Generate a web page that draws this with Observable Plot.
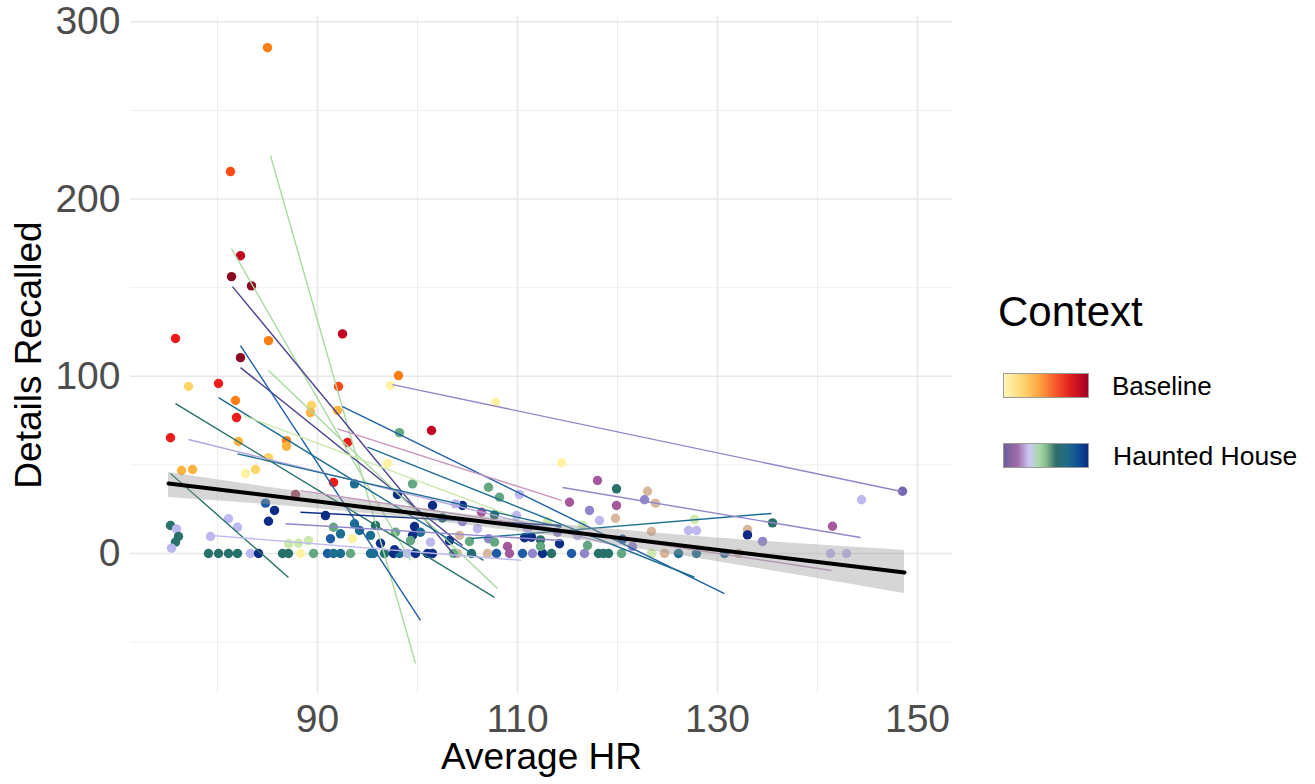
<!DOCTYPE html>
<html>
<head>
<meta charset="utf-8">
<script src="https://cdn.jsdelivr.net/npm/d3@7"></script>
<script src="https://cdn.jsdelivr.net/npm/@observablehq/plot@0.6"></script>
<style>
  html, body { margin: 0; padding: 0; background: #fff; }
  #wrap { position: relative; width: 1315px; height: 784px; overflow: hidden; font-family: "Liberation Sans", Arial, Helvetica, sans-serif; }
  .lg { position: absolute; color: #000; line-height: 1; white-space: nowrap; }
  .bar { position: absolute; width: 84px; height: 23px; border: 1px solid #9a9a9a; }
</style>
</head>
<body>
<div id="wrap"></div>
<script>
// ---------- DATA ----------
const xMajor = [90, 110, 130, 150];
const xMinor = [80, 100, 120, 140];
const yMajor = [0, 100, 200, 300];
const yMinor = [-50, 50, 150, 250];

const contexts = ["Baseline", "Haunted House"];

// participant codes (b* = Baseline, h* = Haunted House)
const participantCodes = ["b1","b2","b3","b4","b5","b6","b7","b8","b9",
  "h1","h1d","h2","h2l","h3","h3l","h4","h5","h6","h7","h8","h9","h10","h11","h12"];

// points: average HR, details recalled, participant
const hr = [
  // Baseline
  85.0, 81.3, 82.3, 81.4, 83.4, 92.5, 75.8, 85.1, 82.3, 98.1, 97.3, 77.1, 80.1, 92.1, 101.4,
  81.8, 81.9, 75.3, 82.1, 86.9, 86.9, 89.4, 89.3, 92.0, 107.8, 114.4, 76.4, 77.5, 82.8, 83.8,
  85.1, 91.6, 93.0, 87.8, 97.0, 93.5, 88.3,
  // tan
  123.0, 123.8, 119.8, 123.4, 133.0, 104.2, 104.0, 107.0, 124.7, 132.1,
  // Haunted: zero row
  79.1, 80.1, 81.1, 82.0, 83.3, 84.1, 86.5, 87.1, 89.6, 91.0, 91.6, 92.3, 93.3, 95.3, 95.6,
  96.7, 97.6, 98.2, 99.0, 99.8, 101.0, 101.5, 103.6, 105.4, 107.9, 109.2, 110.5, 111.5, 112.5,
  113.4, 115.4, 116.7, 118.1, 118.6, 119.1, 120.4, 123.4, 126.1, 127.9, 130.7, 141.3, 142.9,
  // Haunted: others
  75.3, 75.9, 76.1, 75.8, 75.4, 81.1, 82.0, 79.3, 84.8, 85.7, 85.1, 87.1, 88.1, 89.1,
  90.8, 91.3, 92.3, 91.6, 93.7, 94.2, 95.3, 96.3, 97.7, 93.7,
  98.2, 99.5, 98.0, 101.5, 104.5, 103.8, 106.4, 107.7, 107.1, 108.2, 109.9, 110.2,
  99.7, 100.3, 99.5, 97.8, 103.2, 105.2, 107.1, 107.7, 110.7, 112.3, 114.2,
  115.2, 117.2, 119.9, 119.9, 118.0, 117.0, 122.7, 118.2, 127.7, 127.1, 127.9, 133.0,
  134.5, 135.5, 141.5, 144.4, 148.5,
  95.8, 101.3, 99.3, 111.4, 112.3, 114.0, 116.0, 120.5, 121.5, 116.5, 113.0, 111.0, 106.0,
  104.5, 102.5, 109.0
];
const recalled = [
  285.4, 215.5, 168.0, 156.2, 151.0, 123.9, 121.3, 120.1, 110.5, 100.4, 94.8, 94.2, 95.9, 94.2, 69.4,
  86.3, 76.7, 65.3, 63.2, 63.7, 60.5, 83.5, 79.5, 80.7, 85.2, 51.2, 46.8, 47.4, 45.1, 47.4,
  54.1, 40.1, 62.6, 33.3, 50.8, 8.3, 0,
  35.1, 28.4, 19.9, 12.4, 13.5, 10.2, 0, 0, 0, 0,
  0, 0, 0, 0, 0, 0, 0, 0, 0, 0, 0, 0, 0, 0, 0,
  0, 0, 0, 0, 0, 0, 0, 0, 0, 0, 0, 0, 0, 0,
  0, 0, 0, 0, 0, 0, 0, 0, 0, 0, 0, 0, 0,
  15.8, 13.9, 9.6, 6.4, 3.0, 19.6, 14.8, 9.6, 28.4, 24.3, 18.2, 5.5, 5.8, 7.3,
  21.4, 8.3, 11.1, 14.8, 16.8, 13.0, 10.2, 5.8, 2.1, 39.3,
  68.2, 39.3, 33.3, 27.1, 27.1, 28.0, 23.3, 21.8, 37.4, 31.8, 21.4, 33.3,
  15.2, 12.0, 10.2, 12.0, 7.3, 6.8, 8.3, 6.4, 8.9, 7.7, 5.5,
  28.9, 24.3, 36.5, 27.1, 41.2, 4.5, 30.3, 18.6, 19.2, 13.0, 13.0, 10.5,
  6.8, 17.3, 15.4, 30.3, 35.1,
  15.8, 6.4, 7.3, 9.2, 4.0, 12.0, 10.0, 8.0, 4.0, 16.0, 18.0, 14.0, 14.0,
  18.0, 20.0, 4.0
];
const participant = [
  "b4","b5","b7","b8","b8","b7","b6","b4","b8","b4","b1","b2","b6","b5","b7",
  "b4","b6","b6","b3","b4","b3","b2","b3","b3","b1","b1","b3","b3","b1","b2",
  "b2","b6","b6","h12","b1","b1","b1",
  "b9","b9","b9","b9","b9","b9","b9","b9","b9","b9",
  "h8","h8","h8","h8","h4","h11","h8","h8","h7","h10","h9","h9","h7","h9","h9",
  "h8","h11","h9","h4","h11","h11","h11","h7","h8","h10","h2","h10","h3","h11",
  "h8","h10","h3","h8","h8","h8","h7","h5","h9","h9","h9","h4","h4",
  "h8","h4","h8","h8","h4","h4","h4","h4","h10","h11","h11","h5","h5","h5",
  "h11","h10","h9","h7","h9","h9","h9","h11","h11","h9",
  "h7","h7","h11","h11","h11","h4","h2","h8","h7","h7","h4","h4",
  "h11","h9","h11","h7","h11","h7","h3","h7","h11","h8","h11",
  "h2","h3","h8","h2","h2","h7","h3","h4","h5","h4","h4","h11",
  "h3","h8","h2","h4","h1",
  "h8","h4","h7","h11","h7","h3","h4","h10","h3","h5","h5","h4","h4",
  "h3","h8","h2"
];

// per-participant fitted lines (start/end)
const lineX1 = [85.3, 81.4, 81.5, 82.3, 82.3, 85.1, 75.8, 75.3, 80.1, 92.5, 105.4, 97.5, 114.5, 88.3, 77.1, 82.6, 82.0, 79.3, 86.8, 92.0, 88.3, 95.0];
const lineY1 = [224.5, 172.0, 150.6, 104.9, 117.3, 103.2, 84.6, 45.1, 88.0, 82.9, 8.5, 95.3, 37.2, 35.5, 64.3, 77.8, 56.2, 10.2, 16.8, 70.3, 23.3, 60.0];
const lineX2 = [99.8, 99.3, 103.8, 104.5, 100.3, 108.0, 107.7, 87.1, 106.6, 130.7, 135.4, 148.4, 144.3, 141.4, 119.9, 110.0, 114.4, 110.4, 114.4, 114.4, 114.4, 127.7];
const lineY2 = [-62.0, -3.9, -1.7, 4.5, -37.8, -19.7, -24.8, -13.5, -3.9, -22.6, 22.6, 35.0, 9.0, -9.6, 4.5, 20.0, 14.8, -3.9, 7.3, 30.0, 15.8, -13.4];
const lineParticipant = ["h6","h6","h1d","h1d","h10","h6","h8","h8","h9","h10","h9","h3","h3","h2l","h3l","h5","h9","h4","h3","h2l","h11","h9"];

// overall linear fit and its confidence band
const fitX = [75.1, 148.7];
const fitY = [39.5, -10.7];
const bandX = [75.1, 90, 105, 120, 135, 148.7];
const bandLow = [31.6, 25.3, 16.0, 4.4, -9.3, -22.6];
const bandHigh = [45.7, 33.4, 22.0, 13.4, 6.7, 1.7];

// ---------- BUILD ----------
const pts = hr.map((x, i) => ({x, y: recalled[i], p: participant[i]}));
const segs = lineX1.map((x1, i) => ({x1, y1: lineY1[i], x2: lineX2[i], y2: lineY2[i], p: lineParticipant[i]}));
const fit = fitX.map((x, i) => ({x, y: fitY[i]}));
const band = bandX.map((x, i) => ({x, lo: bandLow[i], hi: bandHigh[i]}));

const palette = ["#FFF3A3","#FED568","#FEB23F","#FD7E14","#FF4B12","#EC1C1C","#C40022","#8C0A24","#D8B89C",
  "#7868B0","#4A418F","#A5599D","#C795BF","#9285CC","#B4A6E0","#BDB8EE","#CDE8AC","#A9D9A0","#63A882","#28706A","#1B6E92","#1E5DA6","#0C2D86","#A24A60"];

const chart = Plot.plot({
  width: 1315,
  height: 784,
  marginLeft: 130,
  marginRight: 363,
  marginTop: 16,
  marginBottom: 91,
  style: {fontFamily: '"Liberation Sans", Arial, Helvetica, sans-serif', color: "#4d4d4d", background: "#fff", overflow: "visible"},
  x: {domain: [71.3, 153.5]},
  y: {domain: [-79, 303]},
  color: {type: "ordinal", domain: participantCodes, range: palette},
  marks: [
    Plot.ruleX(xMinor, {stroke: "#efefef", strokeWidth: 1}),
    Plot.ruleY(yMinor, {stroke: "#efefef", strokeWidth: 1}),
    Plot.ruleX(xMajor, {stroke: "#e8e8e8", strokeWidth: 1.6}),
    Plot.ruleY(yMajor, {stroke: "#e8e8e8", strokeWidth: 1.6}),
    Plot.axisX({ticks: xMajor, tickSize: 0, tickPadding: 11, fontSize: 39, label: null}),
    Plot.axisY({ticks: yMajor, tickSize: 0, tickPadding: 10, fontSize: 39, label: null}),
    Plot.dot(pts, {x: "x", y: "y", fill: "p", r: 4.7}),
    Plot.link(segs, {x1: "x1", y1: "y1", x2: "x2", y2: "y2", stroke: "p", strokeWidth: 1.4}),
    Plot.areaY(band, {x: "x", y1: "lo", y2: "hi", fill: "#999999", fillOpacity: 0.4, curve: "natural"}),
    Plot.line(fit, {x: "x", y: "y", stroke: "#000", strokeWidth: 4}),
    Plot.text(["Average HR"], {text: d => d, frameAnchor: "bottom", dy: 64, fontSize: 37, fill: "#000", lineAnchor: "middle", textAnchor: "middle"}),
    Plot.text(["Details Recalled"], {text: d => d, frameAnchor: "left", dx: -101, rotate: -90, fontSize: 37, fill: "#000", lineAnchor: "middle", textAnchor: "middle"})
  ]
});
const wrap = document.getElementById("wrap");
wrap.appendChild(chart);

// ---------- LEGEND ----------
const legendTitle = "Context";
const legend = document.createElement("div");
legend.innerHTML = `
  <div class="lg" style="left:998px; top:291px; font-size:42px;">${legendTitle}</div>
  <div class="bar" style="left:1003px; top:373px; background: linear-gradient(to right, #FFF7B8 0%, #FED572 22%, #FDA440 42%, #F7562A 62%, #DD1C1E 80%, #A30026 100%);"></div>
  <div class="lg" style="left:1112px; top:373px; font-size:26px;">${contexts[0]}</div>
  <div class="bar" style="left:1003px; top:443px; background: linear-gradient(to right, #6E5E9A 0%, #A06CA8 16%, #CCC8F5 30%, #A8D8A8 42%, #86BC8C 50%, #2F6B6A 62%, #1F6A8A 76%, #0E4F95 88%, #0A2B80 100%);"></div>
  <div class="lg" style="left:1113px; top:443px; font-size:26.5px;">${contexts[1]}</div>
`;
wrap.appendChild(legend);
</script>
</body>
</html>
